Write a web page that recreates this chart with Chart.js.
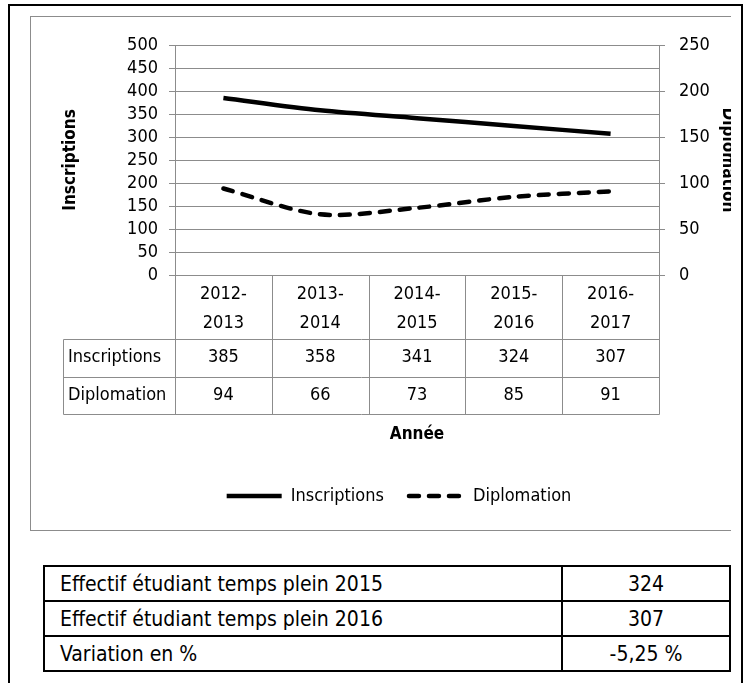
<!DOCTYPE html>
<html>
<head>
<meta charset="utf-8">
<script src="https://cdn.jsdelivr.net/npm/chart.js@4.4.0/dist/chart.umd.min.js"></script>
<style>
  body { margin: 0; background: #fff; width: 751px; height: 683px; overflow: hidden; position: relative; }
  #page { position: absolute; left: 8px; top: 4px; width: 731px; height: 760px; border: 2px solid #000; }
  #frame { position: absolute; left: 30px; top: 16px; width: 700px; height: 513px; overflow: hidden;
           border-left: 1px solid #8c8c8c; border-top: 1px solid #8c8c8c; border-bottom: 1px solid #8c8c8c; }
  #chart { display: block; }
  #summary { position: absolute; left: 43px; top: 565px; width: 688px; border-collapse: collapse;
             font-family: 'DejaVu Sans Condensed', 'Liberation Sans Narrow', sans-serif; font-size: 21px; color: #000; }
  #summary td { border: 2px solid #000; height: 33px; padding: 0 15px; }
  #summary td.val { text-align: center; width: 136px; }
</style>
</head>
<body>
<div id="page"></div>
<div id="frame"><canvas id="chart" width="736" height="513"></canvas></div>
<table id="summary">
  <tr><td>Effectif étudiant temps plein 2015</td><td class="val">324</td></tr>
  <tr><td>Effectif étudiant temps plein 2016</td><td class="val">307</td></tr>
  <tr><td>Variation en %</td><td class="val">-5,25 %</td></tr>
</table>
<script>
// Data
const years = [["2012-", "2013"], ["2013-", "2014"], ["2014-", "2015"], ["2015-", "2016"], ["2016-", "2017"]];
const inscriptions = [385, 358, 341, 324, 307];
const diplomation = [94, 66, 73, 85, 91];
const leftAxis = { min: 0, max: 500, step: 50 };
const rightAxis = { min: 0, max: 250, step: 50 };

const FONT = "'DejaVu Sans Condensed', 'Liberation Sans Narrow', sans-serif";
const GRID = '#8c8c8c';

// data table drawn under the x axis, aligned on the category scale
const dataTable = {
  id: 'dataTable',
  afterDraw(chart) {
    const ctx = chart.ctx;
    const x = chart.scales.x;
    const top = chart.chartArea.bottom;
    const half = (x.getPixelForValue(1) - x.getPixelForValue(0)) / 2;
    const headBottom = top + 64;
    const rowH = 37.5;
    const labelLeft = 32;
    const rows = [["Inscriptions", inscriptions], ["Diplomation", diplomation]];
    const bottom = headBottom + rows.length * rowH;
    const a = v => Math.round(v) + 0.5;

    ctx.save();
    ctx.strokeStyle = GRID;
    ctx.lineWidth = 1;
    ctx.beginPath();
    for (let i = 0; i <= years.length; i++) {
      const px = a(x.getPixelForValue(i) - half);
      ctx.moveTo(px, top);
      ctx.lineTo(px, a(bottom));
    }
    ctx.moveTo(a(labelLeft), a(headBottom));
    ctx.lineTo(a(labelLeft), a(bottom));
    const right = a(x.getPixelForValue(years.length - 1) + half);
    for (let r = 0; r <= rows.length; r++) {
      const py = a(headBottom + r * rowH);
      ctx.moveTo(a(labelLeft), py);
      ctx.lineTo(right, py);
    }
    ctx.stroke();

    ctx.fillStyle = '#000';
    ctx.font = '18px ' + FONT;
    ctx.textBaseline = 'middle';
    rows.forEach(([name, vals], r) => {
      const cy = headBottom + r * rowH + rowH / 2;
      ctx.textAlign = 'left';
      ctx.fillText(name, labelLeft + 5, cy);
      ctx.textAlign = 'center';
      vals.forEach((v, i) => ctx.fillText(String(v), x.getPixelForValue(i), cy));
    });
    ctx.restore();
  }
};

const ctx = document.getElementById('chart').getContext('2d');
new Chart(ctx, {
  type: 'line',
  data: {
    labels: years,
    datasets: [
      {
        label: 'Inscriptions',
        data: inscriptions,
        yAxisID: 'y',
        borderColor: '#000',
        backgroundColor: '#000',
        borderWidth: 4.5,
        pointRadius: 0,
        tension: 0.3
      },
      {
        label: 'Diplomation',
        data: diplomation,
        yAxisID: 'y1',
        borderColor: '#000',
        backgroundColor: '#000',
        borderWidth: 4.5,
        borderDash: [10, 10],
        borderCapStyle: 'round',
        pointRadius: 0,
        tension: 0.3
      }
    ]
  },
  options: {
    responsive: false,
    animation: false,
    layout: { padding: { top: 28, left: 0, right: 0, bottom: 15 } },
    plugins: {
      tooltip: { enabled: false },
      legend: {
        position: 'bottom',
        labels: {
          usePointStyle: true,
          pointStyle: 'line',
          pointStyleWidth: 55,
          padding: 25,
          color: '#000',
          font: { family: FONT, size: 18 },
          generateLabels(chart) {
            // keep the dash pattern of each line in the legend sample
            const items = Chart.defaults.plugins.legend.labels.generateLabels(chart);
            items.forEach(it => {
              const ds = chart.data.datasets[it.datasetIndex];
              it.lineDash = ds.borderDash || [];
              it.lineCap = ds.borderCapStyle || 'butt';
              it.lineWidth = ds.borderWidth;
            });
            return items;
          }
        }
      }
    },
    scales: {
      x: {
        offset: true,
        grid: { display: false, drawTicks: false, tickLength: 0 },
        border: { display: false },
        ticks: { color: '#000', font: { family: FONT, size: 18, lineHeight: 1.6 }, padding: 5, maxRotation: 0, autoSkip: false },
        title: { display: true, text: 'Année', color: '#000', font: { family: FONT, size: 17, weight: 'bold', lineHeight: 1.2 }, padding: { top: 0, bottom: 17 } },
        afterFit(s) { s.height = 187; }
      },
      y: {
        position: 'left',
        min: leftAxis.min,
        max: leftAxis.max,
        ticks: { stepSize: leftAxis.step, autoSkip: false, color: '#000', font: { family: FONT, size: 18 }, padding: 11 },
        grid: { color: GRID, tickLength: 6 },
        border: { color: GRID },
        title: { display: true, text: 'Inscriptions', color: '#000', font: { family: FONT, size: 17, weight: 'bold', lineHeight: 1.2 }, padding: { top: 29, bottom: 0 } },
        afterFit(s) { s.width = 144; }
      },
      y1: {
        position: 'right',
        min: rightAxis.min,
        max: rightAxis.max,
        ticks: { stepSize: rightAxis.step, autoSkip: false, color: '#000', font: { family: FONT, size: 18 }, padding: 14 },
        grid: { drawOnChartArea: false, color: GRID, tickLength: 6 },
        border: { color: GRID },
        title: { display: true, text: 'Diplomation', color: '#000', font: { family: FONT, size: 17, weight: 'bold', lineHeight: 1.2 }, padding: { top: 29, bottom: 0 } },
        afterFit(s) { s.width = 108; }
      }
    }
  },
  plugins: [dataTable]
});
</script>
</body>
</html>
